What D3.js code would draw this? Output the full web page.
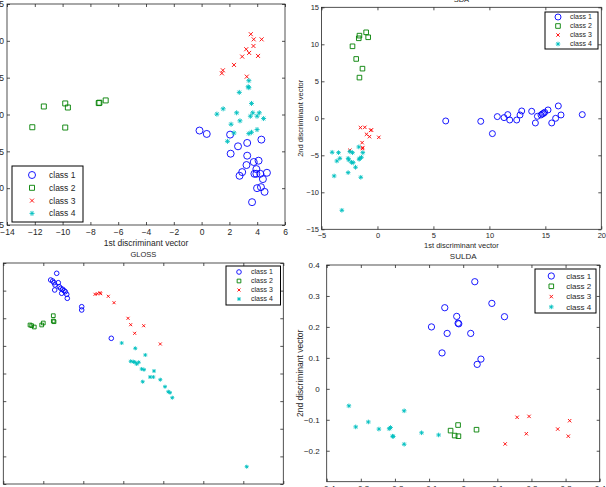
<!DOCTYPE html>
<html><head><meta charset="utf-8">
<script src="https://cdn.jsdelivr.net/npm/d3@7"></script>
<style>body{margin:0;background:#fff}svg{display:block}text{font-family:"Liberation Sans",Arial,sans-serif;fill:#262626}</style>
</head><body><svg id="c" width="606" height="487"></svg>
<script>
const classNames = ["class 1", "class 2", "class 3", "class 4"];

// Panel 1 (top-left): [x, y]
const p1Class1 = [[-0.15,-2.18],[0.37,-2.64],[2.05,-2.73],[4.30,-3.41],[3.28,-3.86],[2.62,-4.32],[2.09,-5.32],[3.28,-5.59],[3.75,-6.45],[4.10,-6.27],[3.23,-6.86],[3.94,-7.41],[2.92,-7.82],[3.80,-8.05],[3.94,-8.05],[4.22,-8.05],[4.70,-7.91],[2.73,-8.32],[4.41,-8.77],[3.99,-10.0],[4.27,-9.86],[4.53,-10.5],[3.63,-11.9]];
const p1Class2 = [[-12.18,-1.73],[-11.35,1.09],[-9.81,1.5],[-9.62,0.95],[-9.81,-1.77],[-7.40,1.55],[-7.35,1.6],[-6.9,1.91]];
const p1Class3 = [[3.54,10.9],[3.75,10.2],[4.32,10.2],[3.73,9.3],[3.21,8.86],[3.42,8.36],[2.92,7.86],[4.06,7.95],[2.33,6.73],[1.53,6.0],[1.46,5.59],[3.25,5.14]];
const p1Class4 = [[3.40,4.59],[3.35,3.77],[3.40,3.64],[2.71,3.0],[3.59,1.5],[1.55,0.77],[1.10,0.05],[2.52,0.23],[3.68,0.23],[4.15,0.23],[3.51,-0.23],[3.99,-0.23],[4.46,-0.55],[2.76,-0.86],[2.12,-1.32],[2.33,-2.5],[3.40,-2.59],[3.59,-2.41],[3.99,-2.05],[1.86,-3.64]];
const p1XTicks = [-14,-12,-10,-8,-6,-4,-2,0,2,4,6];
const p1YTicks = [-15,-10,-5,0,5,10,15];

// Panel 2 (SDA, top-right)
const p2Class1 = [[6.10,-0.36],[9.23,-0.41],[10.27,-2.07],[10.71,0.23],[11.31,0.09],[11.64,0.50],[11.82,-0.23],[12.44,-0.23],[12.74,0.45],[12.89,0.99],[13.78,0.95],[14.11,-0.63],[14.29,0.27],[14.61,0.45],[14.73,0.59],[14.85,0.68],[14.94,0.81],[15.24,1.13],[15.57,-0.63],[15.92,0],[16.16,1.67],[16.40,0.45],[18.30,0.50]];
const p2Class2 = [[-1.01,11.62],[-1.61,11.17],[-1.67,10.81],[-0.83,10.95],[-2.23,9.73],[-1.90,8.02],[-1.34,6.71],[-1.61,5.50]];
const p2Class3 = [[-1.52,-1.26],[-1.13,-1.22],[-0.54,-1.58],[-0.60,-1.62],[-0.98,-2.16],[-0.71,-2.48],[0.12,-2.57],[-1.37,-3.29],[-1.31,-3.96],[-2.47,-4.32],[-1.34,-4.1]];
const p2Class4 = [[-4.05,-4.59],[-3.48,-4.64],[-2.47,-4.50],[-2.23,-4.64],[-1.67,-3.87],[-1.31,-4.64],[-3.36,-5.41],[-3.63,-5.77],[-2.62,-5.41],[-2.56,-5.63],[-2.32,-5.95],[-2.17,-5.99],[-1.58,-5.41],[-1.64,-5.54],[-1.43,-5.27],[-1.96,-6.62],[-3.87,-7.79],[-2.62,-7.34],[-1.49,-7.97],[-3.18,-12.43]];
const p2XTicks = [-5,0,5,10,15,20];
const p2YTicks = [-15,-10,-5,0,5,10,15];

// Panel 3 (GLOSS, bottom-left)
const p3Class1 = [[1.335,7.627],[1.185,7.385],[1.235,7.348],[1.268,7.287],[1.375,7.287],[1.293,7.204],[1.400,7.142],[1.435,7.084],[1.485,7.048],[1.518,6.997],[1.550,6.961],[1.285,7.023],[1.460,6.903],[1.585,6.867],[1.600,6.722],[1.960,6.418],[1.960,6.299],[2.700,5.274]];
const p3Class2 = [[0.668,5.756],[0.710,5.730],[0.775,5.683],[0.960,5.756],[1.000,5.828],[1.250,6.093],[1.250,5.900],[1.268,5.875]];
const p3Class3 = [[2.293,6.867],[2.350,6.889],[2.418,6.925],[2.435,6.889],[2.625,6.795],[2.768,6.563],[3.118,5.998],[3.185,5.767],[3.285,5.455],[3.510,5.730],[3.925,5.068]];
const p3Class4 = [[2.960,5.104],[3.300,4.912],[3.550,4.670],[3.185,4.442],[3.250,4.427],[3.293,4.405],[3.335,4.344],[3.385,4.405],[3.460,4.163],[3.518,4.138],[3.768,4.091],[3.668,3.873],[3.750,3.873],[3.925,3.776],[3.485,3.703],[4.043,3.522],[4.125,3.341],[4.168,3.305],[4.225,3.124],[6.085,0.626]];
const p3XTicks = [0,1,2,3,4,5,6,7];
const p3YTicks = [0,1,2,3,4,5,6,7,8];

// Panel 4 (SULDA, bottom-right)
const p4Class1 = [[-0.093,0.200],[-0.062,0.116],[-0.054,0.262],[-0.047,0.179],[-0.019,0.234],[-0.015,0.212],[-0.013,0.210],[0.022,0.179],[0.034,0.346],[0.041,0.079],[0.052,0.096],[0.084,0.276],[0.121,0.233]];
const p4Class2 = [[-0.037,-0.135],[-0.025,-0.151],[-0.015,-0.117],[-0.014,-0.153],[0.039,-0.132]];
const p4Class3 = [[0.123,-0.178],[0.158,-0.092],[0.185,-0.145],[0.193,-0.089],[0.277,-0.130],[0.308,-0.153],[0.312,-0.103]];
const p4Class4 = [[-0.335,-0.055],[-0.315,-0.123],[-0.278,-0.107],[-0.247,-0.130],[-0.217,-0.129],[-0.213,-0.125],[-0.207,-0.153],[-0.205,-0.154],[-0.173,-0.071],[-0.173,-0.179],[-0.122,-0.142],[-0.072,-0.149]];
const p4XTicks = [-0.4,-0.3,-0.2,-0.1,0,0.1,0.2,0.3,0.4];
const p4YTicks = [-0.2,-0.1,0,0.1,0.2,0.3,0.4];

const colors = ["#0000ff", "#008000", "#ff0000", "#00bfbf"];

// custom marker types
const symTimes = {draw(ctx, size){const r=Math.sqrt(size)/2;ctx.moveTo(-r,-r);ctx.lineTo(r,r);ctx.moveTo(-r,r);ctx.lineTo(r,-r);}};
const symStar = {draw(ctx, size){const r=Math.sqrt(size)/2;const d=r*0.7071;ctx.moveTo(-r,0);ctx.lineTo(r,0);ctx.moveTo(0,-r);ctx.lineTo(0,r);ctx.moveTo(-d,-d);ctx.lineTo(d,d);ctx.moveTo(-d,d);ctx.lineTo(d,-d);}};
const symCircle = {draw(ctx, size){const r=Math.sqrt(size)/2;ctx.moveTo(r,0);ctx.arc(0,0,r,0,2*Math.PI);}};
const symSquare = {draw(ctx, size){const r=Math.sqrt(size)/2;ctx.rect(-r,-r,2*r,2*r);}};
const types = [symCircle, symSquare, symTimes, symStar];

const svg = d3.select("#c");

function panel(cfg){
  const x = d3.scaleLinear().domain(cfg.xd).range([cfg.l, cfg.r]);
  const y = d3.scaleLinear().domain(cfg.yd).range([cfg.b, cfg.t]);
  const g = svg.append("g");
  const fmt = cfg.noLabels ? (() => "") : (v => (v<0?"\u2212":"") + d3.format("")(Math.abs(v)));
  g.append("rect").attr("x",cfg.l).attr("y",cfg.t).attr("width",cfg.r-cfg.l).attr("height",cfg.b-cfg.t)
    .attr("fill","#fff").attr("stroke","#262626").attr("stroke-width",0.8);
  const style = a => { a.select(".domain").remove(); a.selectAll("line").attr("stroke","#262626").attr("stroke-width",0.8);
    a.selectAll("text").attr("fill","#262626").style("font-size",cfg.fs+"px").style("font-family","Liberation Sans, Arial, sans-serif"); };
  g.append("g").attr("transform",`translate(0,${cfg.b})`)
    .call(d3.axisBottom(x).tickValues(cfg.xt).tickFormat(fmt).tickSize(-3).tickPadding(cfg.xpad)).call(style);
  g.append("g").attr("transform",`translate(0,${cfg.t})`)
    .call(d3.axisTop(x).tickValues(cfg.xt).tickFormat("").tickSize(-3)).call(style);
  g.append("g").attr("transform",`translate(${cfg.l},0)`)
    .call(d3.axisLeft(y).tickValues(cfg.yt).tickFormat(fmt).tickSize(-3).tickPadding(cfg.ypad)).call(style);
  g.append("g").attr("transform",`translate(${cfg.r},0)`)
    .call(d3.axisRight(y).tickValues(cfg.yt).tickFormat("").tickSize(-3)).call(style);
  g.selectAll("text").filter(function(){return this.textContent==="";}).remove();
  cfg.data.forEach((pts, ci) => {
    g.append("g").selectAll("path").data(pts).join("path")
      .attr("transform", d => `translate(${x(d[0])},${y(d[1])})`)
      .attr("d", d3.symbol().type(types[ci]).size(cfg.ms[ci]*cfg.ms[ci]))
      .attr("fill","none").attr("stroke",colors[ci]).attr("stroke-width",0.9);
  });
  if (cfg.title) g.append("text").attr("x",(cfg.l+cfg.r)/2).attr("y",cfg.titleY).attr("text-anchor","middle")
    .style("font-size",cfg.tfs+"px").text(cfg.title);
  if (cfg.xlab) g.append("text").attr("x",(cfg.l+cfg.r)/2).attr("y",cfg.xlabY).attr("text-anchor","middle")
    .style("font-size",cfg.lfs+"px").text(cfg.xlab);
  if (cfg.ylab) g.append("text").attr("transform",`translate(${cfg.ylabX},${(cfg.t+cfg.b)/2}) rotate(-90)`).attr("text-anchor","middle")
    .style("font-size",cfg.lfs+"px").text(cfg.ylab);
  const L = cfg.leg;
  g.append("rect").attr("x",L.x0).attr("y",L.y0).attr("width",L.x1-L.x0).attr("height",L.y1-L.y0)
    .attr("fill","#fff").attr("stroke","#000").attr("stroke-width",1);
  classNames.forEach((n, ci) => {
    const yy = L.y0 + L.first + ci*L.step;
    g.append("path").attr("transform",`translate(${L.mx},${yy})`)
      .attr("d", d3.symbol().type(types[ci]).size(cfg.ms[ci]*cfg.ms[ci]))
      .attr("fill","none").attr("stroke",colors[ci]).attr("stroke-width",0.9);
    g.append("text").attr("x",L.tx).attr("y",yy).attr("dy","0.35em").style("font-size",L.fs+"px").text(n);
  });
}

panel({l:7,r:285,t:4,b:225,xd:[-14,6],yd:[-15,15],xt:p1XTicks,yt:p1YTicks,fs:8.5,xpad:4,ypad:3,
  data:[p1Class1,p1Class2,p1Class3,p1Class4],ms:[7,5,4,5],
  xlab:"1st discriminant vector",xlabY:246,lfs:8.5,
  leg:{x0:12,y0:166,x1:83,y1:222,first:9,step:12.8,mx:32,tx:49,fs:8.5}});

panel({l:321.5,r:601.3,t:7.3,b:229.3,xd:[-5,20],yd:[-15,15],xt:p2XTicks,yt:p2YTicks,fs:7.5,xpad:3,ypad:2.5,
  data:[p2Class1,p2Class2,p2Class3,p2Class4],ms:[6,4.6,3.4,4.6],
  title:"SDA",titleY:2,tfs:7.5,
  xlab:"1st discriminant vector",xlabY:248,lfs:7.5,ylab:"2nd discriminant vector",ylabX:303,
  leg:{x0:545,y0:12,x1:598,y1:49,first:5,step:9,mx:558,tx:570,fs:7}});

panel({l:3.3,r:283.3,t:263,b:484,xd:[0,7],yd:[0,8],xt:p3XTicks,yt:p3YTicks,fs:7.5,xpad:3,ypad:3,noLabels:true,
  data:[p3Class1,p3Class2,p3Class3,p3Class4],ms:[4.6,3.7,3,4],
  title:"GLOSS",titleY:257,tfs:7.5,
  leg:{x0:226,y0:266,x1:280.5,y1:305,first:6,step:9,mx:239,tx:251,fs:7}});

panel({l:326.7,r:599.7,t:265,b:481.7,xd:[-0.4,0.4],yd:[-0.3,0.4],xt:p4XTicks,yt:p4YTicks,fs:8,xpad:4,ypad:7,
  data:[p4Class1,p4Class2,p4Class3,p4Class4],ms:[6.3,4.6,3.4,4.6],
  title:"SULDA",titleY:259,tfs:8,
  ylab:"2nd discriminant vector",ylabX:303,lfs:8.5,
  leg:{x0:535,y0:269,x1:596,y1:313,first:7,step:10.3,mx:551.3,tx:566.3,fs:8}});
</script></body></html>
